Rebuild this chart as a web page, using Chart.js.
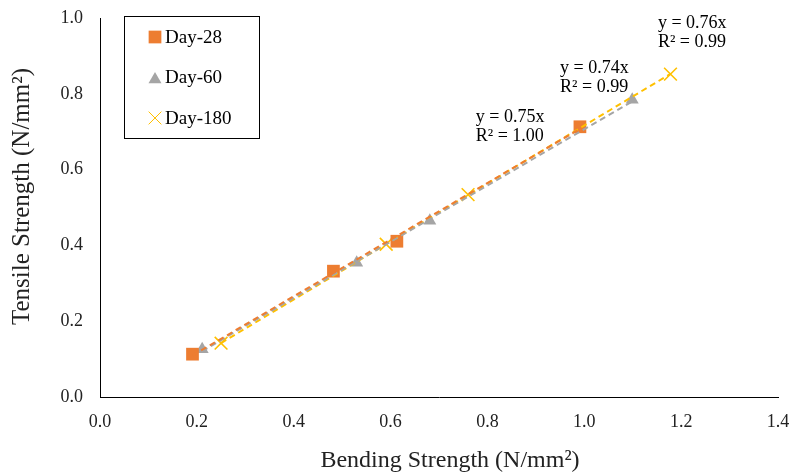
<!DOCTYPE html>
<html><head><meta charset="utf-8">
<script src="https://cdn.jsdelivr.net/npm/chart.js@4/dist/chart.umd.min.js"></script>
<style>html,body{margin:0;padding:0;background:#fff}#wrap{width:794px;height:475px;position:relative}</style>
</head><body><div id="wrap"><canvas id="c" width="794" height="475"></canvas></div>
<script>
// ---- data ----
const seriesNames = ['Day-28', 'Day-60', 'Day-180'];
const day28X = [0.191, 0.482, 0.613, 0.991];
const day28Y = [0.113, 0.332, 0.411, 0.713];
const day60X = [0.211, 0.530, 0.681, 1.099];
const day60Y = [0.126, 0.354, 0.465, 0.784];
const day180X = [0.250, 0.591, 0.760, 1.178];
const day180Y = [0.142, 0.403, 0.534, 0.852];
const xTickValues = [0.0, 0.2, 0.4, 0.6, 0.8, 1.0, 1.2, 1.4];
const yTickValues = [0.0, 0.2, 0.4, 0.6, 0.8, 1.0];
const equationLabels = ['y = 0.75x', 'y = 0.74x', 'y = 0.76x'];
const r2Labels = ['R\u00B2 = 1.00', 'R\u00B2 = 0.99', 'R\u00B2 = 0.99'];
const xTitle = 'Bending Strength (N/mm\u00B2)';
const yTitle = 'Tensile Strength (N/mm\u00B2)';

// ---- styles / layout ----
const colors = ['#ED7D31', '#A5A5A5', '#FFC000'];
const pointStyles = ['rect', 'triangle', 'crossRot'];
const pointRadii = [9, 7.5, 9];
const FONT = "'Liberation Serif', 'Times New Roman', serif";
// label anchors in data coordinates (left edge, first line centre)
const labelAnchors = [{x: 0.776, y: 0.737}, {x: 0.950, y: 0.868}, {x: 1.152, y: 0.987}];

const xs = [day28X, day60X, day180X];
const ys = [day28Y, day60Y, day180Y];

function toPoints(X, Y) { return X.map((x, i) => ({x: x, y: Y[i]})); }
// least-squares trend line over the series x range (as the spreadsheet trendline)
function trend(X, Y) {
  const n = X.length;
  const mx = X.reduce((a, b) => a + b, 0) / n;
  const my = Y.reduce((a, b) => a + b, 0) / n;
  let sxy = 0, sxx = 0;
  for (let i = 0; i < n; i++) { sxy += (X[i] - mx) * (Y[i] - my); sxx += (X[i] - mx) ** 2; }
  const b = sxy / sxx, a = my - b * mx;
  const x0 = Math.min(...X), x1 = Math.max(...X);
  return [{x: x0, y: a + b * x0}, {x: x1, y: a + b * x1}];
}

const datasets = [];
seriesNames.forEach((name, i) => {
  datasets.push({
    label: name,
    data: toPoints(xs[i], ys[i]),
    showLine: false,
    pointStyle: pointStyles[i],
    pointRadius: pointRadii[i],
    pointHoverRadius: pointRadii[i],
    backgroundColor: colors[i],
    borderColor: colors[i],
    pointBorderWidth: i === 2 ? 1.6 : 0,
    order: 2
  });
});
seriesNames.forEach((name, i) => {
  datasets.push({
    label: name + ' trend',
    data: trend(xs[i], ys[i]),
    showLine: true,
    pointRadius: 0,
    borderColor: colors[i],
    borderWidth: 2,
    borderDash: [6, 4],
    fill: false,
    order: 1
  });
});

const whiteBg = {
  id: 'whiteBg',
  beforeDraw(chart) {
    const c = chart.ctx; c.save(); c.fillStyle = '#fff';
    c.fillRect(0, 0, chart.width, chart.height); c.restore();
  }
};

const annotations = {
  id: 'annotations',
  afterDatasetsDraw(chart) {
    const c = chart.ctx, xs_ = chart.scales.x, ys_ = chart.scales.y;
    c.save();
    c.font = '18px ' + FONT;
    c.fillStyle = '#000';
    c.textAlign = 'left';
    c.textBaseline = 'middle';
    labelAnchors.forEach((p, i) => {
      const px = xs_.getPixelForValue(p.x), py = ys_.getPixelForValue(p.y);
      c.fillText(equationLabels[i], px, py);
      c.fillText(r2Labels[i], px, py + 19);
    });
    c.restore();
  }
};

const axisTitles = {
  id: 'axisTitles',
  afterDraw(chart) {
    const c = chart.ctx, a = chart.chartArea;
    c.save();
    c.fillStyle = '#222';
    c.textAlign = 'center';
    c.textBaseline = 'middle';
    c.font = '24px ' + FONT;
    c.fillText(xTitle, (a.left + a.right) / 2 + 11, chart.height - 14);
    c.translate(22, (a.top + a.bottom) / 2 - 11);
    c.rotate(-Math.PI / 2);
    c.font = '25px ' + FONT;
    c.fillText(yTitle, 0, 0);
    c.restore();
  }
};

const legendBox = {
  id: 'legendBox',
  afterDraw(chart) {
    const c = chart.ctx, a = chart.chartArea;
    const left = a.left + 24, top = a.top - 2, w = 135, h = 122;
    c.save();
    c.fillStyle = '#fff';
    c.fillRect(left, top, w, h);
    c.strokeStyle = '#000';
    c.lineWidth = 1;
    c.strokeRect(left + 0.5, top + 0.5, w, h);
    c.font = '19px ' + FONT;
    c.textAlign = 'left';
    c.textBaseline = 'middle';
    seriesNames.forEach((name, i) => {
      const cy = top + 21 + i * 40.5, cx = left + 31;
      const ds = chart.data.datasets[i];
      c.fillStyle = colors[i];
      c.strokeStyle = colors[i];
      Chart.helpers.drawPoint(c, {
        pointStyle: ds.pointStyle, radius: ds.pointRadius, rotation: 0,
        borderWidth: ds.pointBorderWidth
      }, cx, cy + (ds.pointStyle === 'triangle' ? 2 : 0));
      c.fillStyle = '#000';
      c.fillText(name, left + 41, cy + 1);
    });
    c.restore();
  }
};

const chart = new Chart(document.getElementById('c'), {
  type: 'scatter',
  data: {datasets: datasets},
  plugins: [whiteBg, annotations, axisTitles, legendBox],
  options: {
    responsive: false,
    animation: false,
    devicePixelRatio: 1,
    layout: {padding: {left: 0, right: 16, top: 18, bottom: 0}},
    plugins: {legend: {display: false}, tooltip: {enabled: false}},
    scales: {
      x: {
        type: 'linear', min: 0, max: 1.4,
        afterBuildTicks(s) { s.ticks = xTickValues.map(v => ({value: v})); },
        afterFit(s) { s.height = 78; s.paddingLeft = 0; s.paddingRight = 0; },
        grid: {display: false, drawTicks: false},
        border: {display: true, color: '#000', width: 1},
        ticks: {padding: 14, color: '#222', font: {family: FONT, size: 18}, callback: v => Number(v).toFixed(1)},
        title: {display: false}
      },
      y: {
        type: 'linear', min: 0, max: 1.0,
        afterBuildTicks(s) { s.ticks = yTickValues.map(v => ({value: v})); },
        afterFit(s) { s.width = 100; s.paddingTop = 0; s.paddingBottom = 0; },
        grid: {display: false, drawTicks: false},
        border: {display: true, color: '#000', width: 1},
        ticks: {padding: 17, color: '#222', font: {family: FONT, size: 18}, callback: v => Number(v).toFixed(1)},
        title: {display: false}
      }
    }
  }
});
</script></body></html>
